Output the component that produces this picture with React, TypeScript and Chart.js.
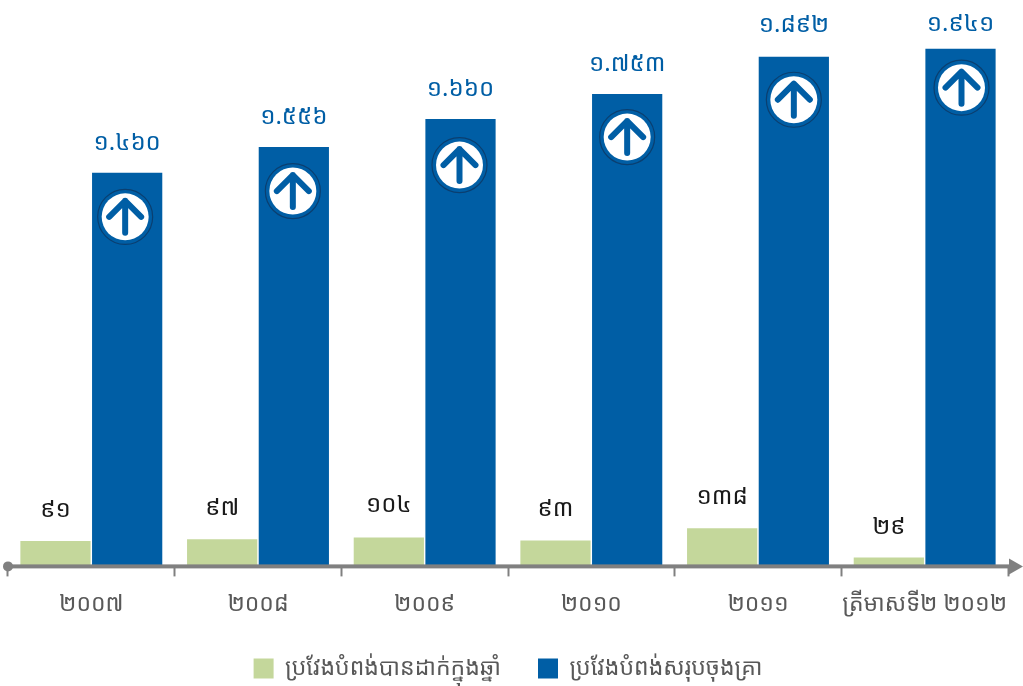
import React, { useEffect, useRef } from "react";
import { Chart, registerables } from "chart.js";

Chart.register(...registerables);

const categories = ["២០០៧", "២០០៨", "២០០៩", "២០១០", "២០១១", "ត្រីមាសទី២ ២០១២"];
const addedValues = [91, 97, 104, 93, 138, 29];
const totalValues = [1460, 1556, 1660, 1753, 1892, 1922];
const addedLabels = ["៩១", "៩៧", "១០៤", "៩៣", "១៣៨", "២៩"];
const totalLabels = ["១.៤៦០", "១.៥៥៦", "១.៦៦០", "១.៧៥៣", "១.៨៩២", "១.៩៤១"];
const seriesNames = ["ប្រវែងបំពង់បានដាក់ក្នុងឆ្នាំ", "ប្រវែងបំពង់សរុបចុងគ្រា"];

// Offsets of the decorations relative to their bars.
const iconDrops = [44, 44, 46, 43, 43, 39];
const iconShifts = [-2, -1, -1, 0, 0, 1];
const totalLifts = [30, 30, 30, 30, 32, 25];
const addedLifts = [31, 31, 32, 31, 31, 30];

const GREEN = "#c4d79b";
const BLUE = "#005ea5";
const AXIS = "#808080";
const FONT = "'Noto Sans', 'Noto Sans Khmer', sans-serif";

const overlay = {
  id: "overlay",
  afterDatasetsDraw(chart: any) {
    const { ctx } = chart;
    const green = chart.getDatasetMeta(0).data;
    const blue = chart.getDatasetMeta(1).data;
    ctx.save();
    ctx.textAlign = "center";
    ctx.textBaseline = "middle";
    ctx.font = `24px ${FONT}`;
    green.forEach((el: any, i: number) => {
      ctx.fillStyle = "#1a1a1a";
      ctx.fillText(addedLabels[i], el.x, el.y - addedLifts[i]);
    });
    blue.forEach((el: any, i: number) => {
      ctx.fillStyle = BLUE;
      ctx.fillText(totalLabels[i], el.x, el.y - totalLifts[i]);
      const cx = el.x + iconShifts[i];
      const cy = el.y + iconDrops[i];
      ctx.beginPath();
      ctx.arc(cx, cy, 27.5, 0, Math.PI * 2);
      ctx.strokeStyle = "#0a3f70";
      ctx.lineWidth = 1.2;
      ctx.stroke();
      ctx.beginPath();
      ctx.arc(cx, cy, 23.5, 0, Math.PI * 2);
      ctx.fillStyle = "#ffffff";
      ctx.fill();
      ctx.strokeStyle = BLUE;
      ctx.lineWidth = 6;
      ctx.lineCap = "round";
      ctx.lineJoin = "round";
      ctx.beginPath();
      ctx.moveTo(cx, cy + 16);
      ctx.lineTo(cx, cy - 16);
      ctx.moveTo(cx - 16, cy);
      ctx.lineTo(cx, cy - 16);
      ctx.lineTo(cx + 16, cy);
      ctx.stroke();
    });
    const area = chart.chartArea;
    const y = area.bottom + 1;
    ctx.fillStyle = AXIS;
    ctx.fillRect(area.left, y - 2, area.right - area.left + 4, 4);
    ctx.beginPath();
    ctx.arc(area.left, y, 5, 0, Math.PI * 2);
    ctx.fill();
    ctx.beginPath();
    ctx.moveTo(area.right + 15, y);
    ctx.lineTo(area.right + 1, y - 8);
    ctx.lineTo(area.right + 1, y + 8);
    ctx.closePath();
    ctx.fill();
    ctx.restore();
  },
};

export default function App() {
  const ref = useRef<HTMLCanvasElement>(null);
  useEffect(() => {
    const chart = new Chart(ref.current!, {
      type: "bar",
      data: {
        labels: categories,
        datasets: [
          { label: seriesNames[0], data: addedValues, backgroundColor: GREEN, categoryPercentage: 0.86, barPercentage: 0.98 },
          { label: seriesNames[1], data: totalValues, backgroundColor: BLUE, categoryPercentage: 0.86, barPercentage: 0.98 },
        ],
      },
      options: {
        responsive: false,
        animation: false,
        layout: { padding: { left: 8, right: 15, top: 0, bottom: -4 } },
        plugins: {
          tooltip: { enabled: false },
          legend: {
            position: "bottom",
            labels: {
              boxWidth: 20,
              boxHeight: 20,
              padding: 37,
              color: "#595959",
              font: { family: FONT, size: 23 },
            },
          },
        },
        scales: {
          x: {
            afterFit(scale: any) {
              scale.height -= 12;
            },
            grid: { display: true, drawOnChartArea: false, tickColor: AXIS, tickWidth: 2, tickLength: 11, offset: true },
            border: { display: false },
            ticks: { color: "#595959", font: { family: FONT, size: 23 }, padding: 14, maxRotation: 0, autoSkip: false },
          },
          y: { display: false, min: 0, max: 2103 },
        },
      },
      plugins: [overlay],
    });
    return () => chart.destroy();
  }, []);
  return (
    <canvas
      ref={ref}
      width={1023}
      height={686}
      style={{ position: "absolute", left: 0, top: 0, width: 1023, height: 686 }}
    />
  );
}
